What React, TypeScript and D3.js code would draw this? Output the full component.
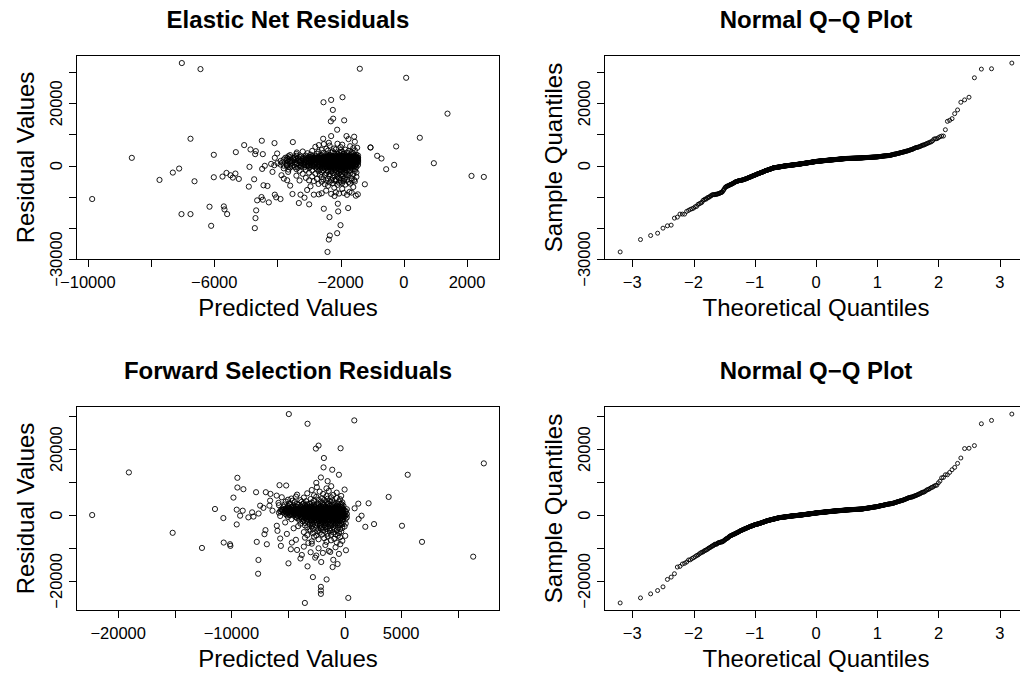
import React from 'react';
import * as d3 from 'd3';

// Elastic Net model: [predicted, residual]
const enetPoints: [number, number][] = [
  // lower tail
  [-2416, -27740], [-2374, -23760], [-2342, -22470], [-2110, -21720], [-4716, -20100], [-6098, -19350],
  [-2004, -19140], [-4695, -16880], [-2353, -16560], [-6752, -15590], [-7037, -15590], [-5592, -15590],
  [-2078, -14730], [-4674, -14400], [-5676, -14080], [-2532, -13870], [-1762, -13650], [-6150, -13220],
  [-5697, -13120], [-2996, -12470], [-2089, -12260], [-3323, -12040], [-4273, -11830], [-4642, -11180],
  [-4463, -10970], [-9864, -10750], [-3903, -10750], [-3144, -10320], [-4040, -10210], [-4505, -10110],
  [-2194, -9780], [-1519, -9680], [-3270, -9350], [-2848, -9350], [-4083, -9350], [-1456, -9250],
  [-2690, -9250], [-3524, -9140],
  [-1720, -8490], [-2050, -9000], [-1900, -8800], [-2300, -9100], [-1650, -8700], [-2150, -8600], [-2600, -8900], [-1800, -9400],
  [-2458, -8060], [-3060, -7850], [-2954, -6670], [-3597, -6450], [-4315, -6560], [-4906, -6770], [-1950, -7500],
  [-2200, -7100], [-1600, -6900], [-2400, -6500],
  [-4442, -6340], [-1234, -6020], [-6625, -5050], [-3692, -4730], [-2100, -6200], [-1850, -6100], [-2500, -6000],
  [-2700, -5900], [-1700, -5800], [-2250, -5700], [-1950, -5600], [-2050, -5500], [-2350, -5400], [-1750, -5300],
  [-2600, -5200], [-2000, -5150], [-1550, -5100], [-2850, -5000], [-2150, -4950], [-1900, -4900], [-2450, -4850],
  [-3300, -4800], [-1650, -4800], [-2200, -4780], [-3000, -4760],
  [-7733, -4620], [-5222, -4300], [-4737, -4410], [-3798, -4190], [-1572, -4620], [-5412, -3870], [-6014, -3760],
  [-5739, -3550], [-5486, -3120], [-3872, -3120],
  [-2300, -4700], [-2000, -4600], [-1800, -4500], [-2550, -4450], [-2150, -4400], [-2750, -4300], [-1900, -4250],
  [-2400, -4200], [-1650, -4100], [-2050, -4000], [-3100, -3950], [-2250, -3900], [-1850, -3800], [-2600, -3700],
  [-1500, -3650], [-2100, -3550], [-2900, -3500], [-1950, -3400], [-2350, -3300], [-3400, -3250], [-1750, -3200],
  [-5613, -2370], [-7311, -2260], [-4157, -2040], [-3661, -2040],
  [-2200, -3100], [-2000, -3050], [-2500, -3000], [-1800, -2950], [-2650, -2900], [-2100, -2850], [-1600, -2800],
  [-2350, -2750], [-1950, -2700], [-3200, -2650], [-2800, -2600], [-2050, -2550], [-1700, -2500], [-2450, -2450],
  [-2250, -2400], [-1850, -2350], [-3000, -2300], [-1500, -2250], [-2150, -2200], [-2600, -2150], [-1900, -2100],
  [-5330, -2580], [-2400, -2000], [-2000, -1950], [-1750, -1900], [-2700, -1850], [-2300, -1800], [-1550, -1750],
  [-2100, -1700], [-3300, -1650], [-1950, -1620], [-2550, -1600], [-1800, -1570], [-2900, -1550], [-2200, -1520],
  [-4484, -1080], [-3650, -1290], [-559, -1180], [-7111, -970],
  [-2000, -1500], [-2400, -1460], [-1700, -1420], [-3100, -1380], [-2150, -1350], [-1850, -1300], [-2650, -1260],
  [-2300, -1220], [-1550, -1180], [-3400, -1140], [-2050, -1100], [-2750, -1050], [-1900, -1000], [-2500, -950],
  [-3800, -900], [-2200, -850], [-1650, -800],
  [-4885, -430],
  [-2100, -760], [-2600, -750], [-1800, -740], [-3000, -730], [-2300, -720], [-1950, -700], [-3350, -690],
  [-2450, -680], [-1600, -660], [-2150, -650], [-2800, -640], [-2000, -620], [-3600, -600], [-1750, -590],
  [-2350, -580], [-2550, -560], [-1900, -550], [-3150, -540], [-2250, -520], [-1500, -510], [-2700, -490],
  [-2050, -480], [-3450, -460], [-1850, -450], [-2400, -440], [-2950, -420], [-1650, -410], [-2200, -390],
  [-3250, -380], [-2500, -360], [-1950, -350], [-2750, -330], [-1700, -320], [-2100, -300], [-3550, -290],
  [-2300, -270], [-1800, -260], [-2650, -240], [-3050, -230], [-2000, -210], [-1550, -200], [-2450, -190],
  [-2850, -170], [-2150, -160], [-3700, -150], [-1900, -140], [-2350, -130],
  [-306, 215],
  [-2100, 515], [-1800, 505], [-2600, 495], [-3200, 485], [-1950, 475], [-2350, 466], [-1600, 456], [-2850, 446],
  [-2050, 436], [-3600, 426], [-2250, 417], [-1700, 407], [-2500, 397], [-1500, 387], [-3050, 378], [-2000, 368],
  [-2700, 358], [-1850, 348], [-3400, 338], [-2200, 329], [-1650, 319], [-2450, 309], [-3900, 299], [-1950, 290],
  [-2150, 280], [-2950, 270], [-1550, 260], [-2400, 250], [-3300, 241], [-1800, 231], [-2050, 221], [-2650, 211],
  [-1450, 202], [-3700, 192], [-2300, 182], [-1900, 172], [-2800, 162], [-2100, 153], [-3150, 143], [-1700, 133],
  [-2550, 123], [-2000, 113], [-4100, 104], [-2250, 94], [-1600, 84], [-3000, 74], [-1850, 64], [-2400, 55],
  [-3500, 45], [-2150, 35], [-1750, 25], [-2700, 15], [-1950, 6], [-3250, -4], [-2350, -14], [-1550, -24],
  [-2900, -34], [-2050, -43], [-3800, -53], [-1800, -63], [-2500, -73], [-2200, -83], [-4400, -92], [-1650, -102],
  [-3050, -112], [-2000, -122],
  [950, 750],
  [-2000, 1285], [-2350, 1274], [-1700, 1263], [-2900, 1252], [-2150, 1241], [-1550, 1230], [-3300, 1219],
  [-2500, 1208], [-1850, 1197], [-2050, 1186], [-3650, 1175], [-2250, 1164], [-1650, 1153], [-2700, 1142],
  [-1950, 1131], [-2400, 1120], [-1500, 1109], [-3100, 1098], [-2100, 1087], [-1800, 1076], [-2600, 1065],
  [-3450, 1054], [-2000, 1043], [-1600, 1032], [-2300, 1021], [-2850, 1010], [-1900, 999], [-2150, 988],
  [-3850, 977], [-1750, 966], [-2450, 955], [-2050, 944], [-1450, 933], [-3000, 922], [-2200, 911], [-1850, 900],
  [-2650, 889], [-3550, 878], [-1650, 867], [-2350, 856], [-1950, 845], [-2800, 834], [-2100, 823], [-1550, 812],
  [-3250, 801], [-2500, 790], [-1800, 779], [-2000, 768], [-4000, 757], [-2250, 746], [-1700, 735], [-2950, 724],
  [-2400, 713], [-1900, 702], [-3400, 691], [-2150, 680], [-1500, 669], [-2600, 658], [-2050, 647], [-3700, 636],
  [-1850, 625], [-2300, 614], [-2750, 603], [-1600, 592], [-2000, 581], [-3150, 570], [-2450, 559], [-1750, 548],
  [-2200, 537], [-4200, 526],
  [-2200, 1805], [-1750, 1798], [-2450, 1791], [-1950, 1784], [-3100, 1777], [-1600, 1770], [-2300, 1763],
  [-2050, 1756], [-2750, 1749], [-1850, 1742], [-3450, 1735], [-2150, 1728], [-1500, 1721], [-2550, 1714],
  [-2000, 1707], [-1700, 1700], [-2900, 1693], [-2350, 1686], [-1900, 1679], [-3700, 1672], [-2100, 1665],
  [-1550, 1658], [-2650, 1651], [-2250, 1644], [-1800, 1637], [-3250, 1630], [-2000, 1623], [-1650, 1616],
  [-2400, 1609], [-2850, 1602], [-1950, 1595], [-1450, 1588], [-2200, 1581], [-3550, 1574], [-2500, 1567],
  [-1750, 1560], [-2050, 1553], [-3000, 1546], [-1600, 1539], [-2300, 1532], [-1900, 1525], [-2700, 1518],
  [-2150, 1511], [-3350, 1504], [-1550, 1497], [-2450, 1490], [-1850, 1483], [-2000, 1476], [-3900, 1469],
  [-2600, 1462], [-1700, 1455], [-2250, 1448], [-2950, 1441], [-1500, 1434], [-2100, 1427], [-1950, 1420],
  [-3150, 1413], [-2350, 1406], [-1800, 1399], [-2550, 1392], [-1650, 1385], [-2050, 1378], [-3600, 1371],
  [-2200, 1364], [-1450, 1357], [-2800, 1350], [-1900, 1343], [-2400, 1336], [-1750, 1329], [-3050, 1322],
  [-2150, 1315], [-1600, 1300],
  [-2050, 2255], [-1800, 2248], [-2500, 2241], [-1600, 2234], [-2250, 2227], [-3000, 2220], [-1950, 2213],
  [-2350, 2206], [-1700, 2199], [-3400, 2192], [-2150, 2185], [-1500, 2178], [-2600, 2171], [-1900, 2164],
  [-2000, 2157], [-2800, 2150], [-1650, 2143], [-2400, 2136], [-3650, 2129], [-1850, 2122], [-2200, 2115],
  [-1550, 2108], [-2700, 2101], [-2100, 2094], [-1750, 2087], [-3200, 2080], [-2300, 2073], [-1950, 2066],
  [-1450, 2059], [-2550, 2052], [-2050, 2045], [-1800, 2038], [-2900, 2031], [-2250, 2024], [-1600, 2017],
  [-3500, 2010], [-2000, 2003], [-2450, 1996], [-1700, 1989], [-2150, 1982], [-3100, 1975], [-1900, 1968],
  [-2350, 1961], [-1500, 1954], [-2650, 1947], [-2050, 1940], [-1850, 1933], [-3800, 1926], [-2200, 1919],
  [-1650, 1912], [-2500, 1905], [-1950, 1898], [-2750, 1891], [-2100, 1884], [-1550, 1877], [-3300, 1870],
  [-2300, 1863], [-1750, 1856], [-2000, 1849], [-2850, 1842], [-1900, 1835], [-2400, 1828], [-1450, 1821],
  [-3000, 1818], [-2150, 1815], [-1800, 1812],
  [-707, 2260],
  [-2000, 2445], [-1750, 2442], [-2300, 2439], [-2650, 2436], [-1550, 2433], [-2150, 2430], [-1900, 2427],
  [-3200, 2424], [-2450, 2420], [-1650, 2417], [-2050, 2414], [-2750, 2411], [-1850, 2408], [-2250, 2405],
  [-3500, 2402], [-1500, 2398], [-2100, 2395], [-2550, 2392], [-1800, 2389], [-1950, 2386], [-2850, 2383],
  [-2350, 2380], [-1600, 2376], [-2200, 2373], [-3050, 2370], [-1700, 2367], [-2400, 2364], [-2000, 2361],
  [-1450, 2358], [-2600, 2354], [-1850, 2351], [-2150, 2348], [-3350, 2345], [-1750, 2342], [-2300, 2339],
  [-2050, 2336], [-2950, 2332], [-1550, 2329], [-2500, 2326], [-1900, 2323], [-2250, 2320], [-3700, 2317],
  [-1650, 2314], [-2100, 2310], [-2700, 2307], [-1800, 2304], [-2400, 2301], [-1950, 2298], [-3150, 2295],
  [-1500, 2292], [-2200, 2288], [-2550, 2285], [-1700, 2282], [-2000, 2279], [-2800, 2276], [-1850, 2273],
  [-2350, 2270], [-1600, 2266],
  [-8609, 2470], [-4083, 2470],
  [-2100, 2765], [-1850, 2760], [-2400, 2755], [-1600, 2750], [-2950, 2745], [-2000, 2740], [-2250, 2730],
  [-1700, 2725], [-3300, 2720], [-1950, 2715], [-2550, 2710], [-1500, 2700], [-2150, 2695], [-1800, 2690],
  [-2700, 2680], [-2050, 2675], [-3600, 2670], [-1650, 2660], [-2350, 2655], [-1900, 2650], [-2800, 2640],
  [-2200, 2635], [-1550, 2630], [-2450, 2620], [-2000, 2615], [-3100, 2610], [-1750, 2600], [-2300, 2595],
  [-1850, 2590], [-2600, 2580], [-2100, 2575], [-1450, 2570], [-3450, 2560], [-1950, 2555], [-2500, 2550],
  [-1700, 2540], [-2250, 2535], [-2900, 2530], [-2050, 2520], [-1600, 2515], [-2400, 2510], [-3750, 2500],
  [-1800, 2495], [-2150, 2490], [-2650, 2480], [-1900, 2470], [-2350, 2460],
  [-844, 3120],
  [-2200, 3210], [-1900, 3200], [-2600, 3190], [-3100, 3170], [-1700, 3160], [-2400, 3150], [-2050, 3130],
  [-3400, 3120], [-1550, 3100], [-2300, 3090], [-2800, 3070], [-1950, 3060], [-2150, 3040], [-3650, 3020],
  [-1800, 3010], [-2500, 3000], [-2000, 2980], [-2900, 2960], [-1600, 2950], [-2250, 2930], [-3250, 2910],
  [-1850, 2900], [-2700, 2880], [-2100, 2860], [-1500, 2850], [-2450, 2830], [-3000, 2820], [-1750, 2800],
  [-2350, 2790], [-1950, 2780],
  [-4705, 3660], [-4463, 3660], [-4009, 3870], [-6014, 3440],
  [-2300, 4150], [-1800, 4100], [-2550, 4050], [-2000, 4000], [-3050, 3950], [-1600, 3900], [-2200, 3850],
  [-2750, 3800], [-1900, 3750], [-3400, 3700], [-2450, 3650], [-1700, 3600], [-2100, 3550], [-2950, 3500],
  [-1500, 3450], [-2350, 3400], [-3600, 3350], [-1850, 3300], [-2650, 3280], [-2050, 3250], [-1450, 3230],
  [-4853, 5160], [-4684, 4620], [-5317, 4300], [-3387, 4190],
  [-2150, 5200], [-1850, 5100], [-2600, 5000], [-2000, 4950], [-1550, 4850], [-2400, 4800], [-2900, 4700],
  [-1750, 4650], [-2250, 4550], [-3200, 4500], [-1950, 4450], [-2700, 4400], [-1650, 4300], [-2050, 4250],
  [-2532, 6880], [-2690, 6560], [-5053, 6560], [-243, 6130], [-1055, 5800], [-1477, 5700], [-2205, 5480],
  [-2100, 7000], [-1950, 6700], [-2350, 6400], [-1700, 6200], [-2800, 6000], [-2000, 5900], [-1600, 5600], [-2450, 5400],
  // upper tail
  [-7026, 32900], [-1393, 31070], [-6436, 30960], [74, 28170], [-1941, 21930], [-2300, 21070], [-2543, 20320],
  [-2247, 17850], [1382, 16660], [-2237, 15050], [-1888, 14510], [-2310, 14190], [-2110, 11500], [-1815, 9460],
  [-2300, 9460], [-1572, 9250], [506, 8920], [-6752, 8600], [-2553, 8600], [-1751, 8490], [-4495, 7960],
  [-1551, 7630], [-3513, 7530], [-2374, 7310], [-4093, 7200],
  // right of the cluster
  [-1055, 5800], [2142, -3330], [2532, -3655],
];

// Forward Selection model: [predicted, residual]
const fwdPoints: [number, number][] = [
  // upper tail
  [-4927, 30670], [856, 28740], [-3275, 27720], [-2300, 21090], [-354, 20280], [-2537, 20180], [-1829, 17320],
  [12300, 15690], [-1859, 14470], [-1092, 13760], [-19057, 12940], [-500, 12230], [5575, 12230], [-2095, 11410],
  [-9470, 11310], [-1500, 10300],
  [-2500, 9780], [-5750, 9070], [-5160, 8970], [-1180, 8760], [-2450, 8460], [-9470, 8360], [-8940, 7850],
  [0, 7740], [-1600, 8100], [-2900, 7600],
  [-7820, 6930], [-6960, 6930], [-6550, 6420], [-1400, 7300], [-2200, 7100], [-700, 6800], [-3300, 6600],
  [-1900, 6400], [-4200, 6200], [-1000, 6100], [-2700, 6000], [-6000, 5900], [-300, 5800], [-1600, 5750],
  [-9820, 5300], [3890, 5500], [-5550, 5400], [-6580, 4380],
  [-4300, 5600], [-2500, 5500], [-1200, 5400], [-3600, 5300], [-700, 5200], [-2000, 5100], [-4700, 5000],
  [-1500, 4950], [-3000, 4850], [-400, 4800], [-2300, 4700], [-5000, 4650], [-1800, 4550], [-3900, 4500], [-1100, 4420],
  [1210, 3460], [2120, 3570],
  [-4600, 4350], [-2700, 4300], [-1300, 4250], [-3400, 4200], [-500, 4150], [-5200, 4100], [-2100, 4050],
  [-3800, 4000], [-1600, 3950], [-4400, 3900], [-200, 3850], [-2900, 3800], [-1000, 3750], [-5840, 3700],
  [-2400, 3650], [-3600, 3600], [-800, 3550], [-4900, 3500], [-1900, 3450], [-3100, 3420], [-300, 3400],
  [-4200, 3380], [-1400, 3370],
  [-6640, 2850], [-7460, 2850],
  [-3700, 3340], [-1500, 3320], [-4800, 3300], [-2300, 3270], [-600, 3250], [-3300, 3220], [-5300, 3190],
  [-1100, 3160], [-2700, 3140], [-4100, 3110], [-200, 3080], [-1900, 3050], [-3500, 3020], [-5800, 2990],
  [-900, 2960], [-2500, 2930], [-4500, 2900], [-1300, 2870], [-3000, 2840], [-100, 2810], [-5000, 2780],
  [-2100, 2750], [-3900, 2720], [-700, 2690], [-1700, 2660], [-4300, 2630], [-2900, 2600], [-400, 2580], [-3400, 2560],
  [-11450, 1830],
  [-3200, 2540], [-800, 2525], [-4700, 2510], [-1900, 2495], [-2600, 2480], [-300, 2465], [-5400, 2450],
  [-1400, 2435], [-3600, 2420], [-2200, 2405], [-600, 2390], [-4200, 2375], [-1700, 2360], [-3000, 2345],
  [885, 2040], [-5000, 2315], [-2400, 2300], [-1100, 2285], [-3800, 2270], [-2000, 2255], [-4500, 2240],
  [-500, 2225], [-2800, 2210], [-1500, 2195], [-7170, 2180], [-3400, 2165], [-900, 2150], [-2100, 2135],
  [-4000, 2120], [-1300, 2105], [-2700, 2090], [-200, 2075], [-4900, 2060], [-1800, 2045], [-3300, 2030],
  [-700, 2015], [-2300, 2000], [-5200, 1985], [-1000, 1970], [-3700, 1955], [-1600, 1940], [-2500, 1925],
  [-4400, 1910], [-400, 1895], [-2900, 1880], [-1200, 1865], [-3500, 1850], [-2000, 1838],
  [-9530, 1630],
  [-2100, 1826], [-4600, 1821], [-900, 1816], [-3100, 1811], [-1600, 1806], [-5300, 1801], [-2500, 1796],
  [-300, 1790], [-3900, 1785], [-1300, 1780], [-2800, 1775], [-600, 1770], [-4300, 1765], [-1900, 1760],
  [-3400, 1755], [200, 1750], [-5000, 1745], [-2300, 1739], [-1100, 1734], [-3700, 1729], [-2000, 1724],
  [-4800, 1719], [-700, 1714], [-2700, 1709], [-1500, 1704], [-3300, 1699], [-5600, 1694], [-1000, 1688],
  [-2400, 1683], [-4100, 1678], [-1800, 1673], [-400, 1668], [-3000, 1663], [-2200, 1658], [-4500, 1653],
  [-1200, 1648], [-3600, 1643], [-100, 1637], [-2600, 1632], [-5200, 1627], [-1700, 1622], [-2900, 1617],
  [-800, 1612], [-4000, 1607], [-2000, 1602], [-3200, 1597], [-1400, 1592], [-4700, 1586], [-500, 1581],
  [-2500, 1576], [-3800, 1571], [-1600, 1566], [-2300, 1561], [-5500, 1556], [-1000, 1551], [-3500, 1546],
  [-2100, 1541], [-200, 1535],
  [-9000, 1320], [-6370, 1320],
  [-2700, 1525], [-1200, 1519], [-4400, 1513], [-300, 1506], [-3300, 1500], [-1800, 1494], [-5100, 1487],
  [-2200, 1481], [-800, 1475], [-3800, 1468], [-1500, 1462], [-2900, 1456], [-4800, 1449], [-100, 1443],
  [-2400, 1437], [-3500, 1430], [-1000, 1424], [-5500, 1418], [-2000, 1411], [-3100, 1405], [-600, 1399],
  [-4200, 1392], [-1700, 1386], [-2600, 1380], [-3900, 1373], [-1300, 1367], [-200, 1361], [-4600, 1354],
  [-2300, 1348], [-3400, 1342], [-900, 1335], [-1900, 1329], [-5000, 1323], [-2800, 1316], [-400, 1310],
  [-3600, 1304], [-1400, 1297], [-4300, 1291], [-2100, 1285], [-700, 1278], [-3000, 1272], [-1600, 1266],
  [-5300, 1259], [-2500, 1253], [100, 1247], [-3700, 1240], [-1100, 1234], [-4500, 1228], [-2000, 1221],
  [-3200, 1215], [-500, 1209], [-1800, 1202], [-4000, 1196], [-2700, 1190], [-1300, 1183], [-5700, 1177],
  [-2200, 1171], [-3500, 1164], [-800, 1158], [-4700, 1152], [-1500, 1145], [-2900, 1139], [-300, 1133], [-3900, 1126],
  [-8170, 815],
  [-2000, 1115], [-4300, 1108], [-1100, 1101], [-3100, 1094], [-200, 1087], [-2600, 1080], [-5200, 1073],
  [-1600, 1066], [-3700, 1059], [-700, 1052], [-2300, 1045], [-4800, 1038], [-1300, 1031], [-2900, 1024],
  [-400, 1017], [-3400, 1010], [-1900, 1003], [-5600, 996], [-900, 989], [-2500, 982], [-4000, 975],
  [-1500, 968], [-3200, 961], [100, 954], [-2100, 947], [-4600, 940], [-1000, 933], [-2800, 926],
  [-3800, 919], [-600, 912], [-1800, 905], [-5000, 898], [-2400, 891], [-1200, 884], [-3500, 877],
  [-300, 870], [-2700, 863], [-4400, 856], [-1700, 849], [-800, 842], [-3000, 835], [-2200, 828],
  [-5400, 821], [-1400, 814], [-3600, 807], [-500, 800], [-2600, 793], [-4100, 786], [-1100, 779],
  [-2000, 772], [-3300, 765], [-100, 758], [-4700, 751], [-1600, 744], [-2800, 737], [-900, 730],
  [-3900, 723], [-2300, 716], [-5800, 709], [-1300, 702], [-3100, 695], [-400, 688], [-2500, 681],
  [-4500, 674], [-1900, 667], [-700, 660], [-3500, 653], [-1500, 646], [-2900, 639], [-5100, 632], [-1000, 620],
  [-2200, 605], [-4500, 596], [-900, 588], [-3300, 579], [-1600, 570], [-300, 561], [-2700, 553], [-5000, 544],
  [-1200, 535], [-3800, 527], [-2000, 518], [-600, 509], [-4200, 501], [-1800, 492], [-3000, 483], [-100, 474],
  [-2400, 466], [-7600, 457], [-1400, 448], [-3500, 440], [-800, 431], [-2600, 422], [-4000, 414], [-1900, 405],
  [-200, 396], [-3200, 387], [-1100, 379], [-4700, 370], [-2300, 361], [-600, 353], [-2900, 344], [-1500, 335],
  [-3700, 327], [200, 318], [-2100, 309], [-5200, 300], [-1000, 292], [-3400, 283], [-1700, 274], [-400, 266],
  [-2500, 257], [-4400, 248], [-1300, 240], [-2800, 231], [-700, 222], [-3900, 213], [-2000, 205], [-100, 196],
  [-3100, 187], [-1600, 179], [-4900, 170], [-900, 161], [-2400, 153], [-3600, 144], [-1200, 135], [-300, 126],
  [-2700, 118], [-1900, 109],
  [-22300, 0], [-9230, -200], [1500, -200],
  [-1800, 95], [-3700, 87], [-500, 79], [-2600, 71], [-1200, 63], [-4300, 55], [-2100, 47], [0, 39],
  [-3200, 31], [-1500, 23], [-2800, 15], [-700, 7], [-4800, -1], [-1900, -9], [-3500, -17], [-300, -25],
  [-2400, -33], [-1100, -41], [-4000, -49], [-2000, -57], [-900, -65], [-3000, -73], [-1600, -81], [-5100, -89],
  [-200, -97], [-2500, -105], [-3800, -113], [-1300, -121], [-2200, -129], [-600, -137], [-3300, -145], [-1700, -153],
  [-4500, -161], [100, -169], [-2700, -177], [-1000, -185], [-2000, -193], [-3600, -201], [-400, -209], [-1400, -217],
  [-2900, -225], [-800, -233], [-4200, -241], [-1900, -249], [-2300, -257], [-100, -265], [-3100, -273], [-1200, -281],
  [-5690, -289], [-700, -297], [-2600, -303],
  [-8500, -710],
  [-2100, -310], [-500, -320], [-3400, -330], [-1300, -340], [-2700, -350], [-4100, -360], [-800, -370], [-1900, -380],
  [-3000, -390], [-200, -400], [-2400, -410], [-1500, -420], [-3700, -430], [-1000, -440], [-2200, -450], [0, -460],
  [-8050, -470], [-1700, -480], [-2900, -490], [-600, -500], [-3300, -510], [-1200, -520], [-2000, -530], [-400, -540],
  [-3900, -550], [-2600, -560], [-900, -570], [-1600, -580], [-5000, -590], [-2300, -600], [-100, -610], [-3100, -620],
  [-1400, -630], [-2800, -640], [-700, -650], [-4300, -660], [-1900, -670], [-3500, -680], [-1100, -690], [200, -700],
  [-2500, -710], [-3800, -720], [-1500, -730], [-500, -740], [-2100, -750], [-3200, -760], [-900, -770], [-1800, -780],
  [-2700, -790], [-300, -800],
  [-10710, -920], [1240, -1220],
  [-2000, -830], [-3500, -852], [-700, -873], [-2600, -895], [-1300, -917], [-4200, -939], [-300, -960], [-2200, -982],
  [-1700, -1004], [-3100, -1026], [-900, -1047], [-2700, -1069], [100, -1091], [-1900, -1113], [-3800, -1134],
  [-1200, -1156], [-2400, -1178], [-600, -1200], [-3300, -1221], [-1500, -1243], [-2100, -1265], [-4700, -1287],
  [-1000, -1308], [-2800, -1330], [-400, -1352], [-1700, -1374], [-3000, -1395], [-2300, -1417], [-800, -1439],
  [-3600, -1461], [-1400, -1482], [-2500, -1504], [-200, -1526], [-2000, -1548], [-4000, -1569], [-1100, -1591],
  [-2900, -1613], [-600, -1635], [-1800, -1656], [-3300, -1678], [-1300, -1700], [-2200, -1720],
  [2600, -2750], [-9530, -2850],
  [-1600, -1760], [-3000, -1793], [-400, -1826], [-2300, -1859], [-1100, -1892], [-3700, -1925], [-2000, -1958],
  [-700, -1991], [-2700, -2024], [-1400, -2057], [-100, -2090], [-3300, -2123], [-1900, -2156], [-900, -2189],
  [-2500, -2222], [-5250, -2255], [-1200, -2288], [-300, -2321], [-2200, -2354], [-3500, -2387], [-1700, -2420],
  [-600, -2453], [-2900, -2486], [-1000, -2519], [-2000, -2552], [100, -2585], [-3900, -2618], [-1500, -2651],
  [-2400, -2684], [-800, -2717], [-3100, -2750], [-1300, -2783], [-200, -2816], [-2100, -2849], [-2800, -2882],
  [-500, -2915], [-1700, -2940],
  [-5990, -3260], [5070, -3260], [1830, -3570],
  [-1200, -2990], [-2600, -3044], [-400, -3099], [-3500, -3153], [-1800, -3208], [-800, -3262], [-2200, -3317],
  [-4100, -3371], [-1500, -3426], [0, -3480], [-2900, -3535], [-1000, -3589], [-2000, -3644], [-3300, -3698],
  [-600, -3753], [-1700, -3807], [-2500, -3862], [-200, -3916], [-1300, -3971], [-4500, -4025], [-2100, -4080],
  [-900, -4134], [-2800, -4189], [-1600, -4243], [-400, -4298], [-3100, -4352], [-1100, -4407], [-2300, -4460],
  [-6990, -4590], [-5930, -4790], [-15190, -5400], [-7080, -5810], [60, -6320],
  [-1900, -4560], [-700, -4650], [-3000, -4740], [-1300, -4830], [-2400, -4920], [-300, -5010], [-1700, -5100],
  [-3600, -5190], [-1000, -5280], [-2200, -5370], [-500, -5460], [-2800, -5550], [-1500, -5640], [-5100, -5730],
  [-800, -5820], [-2000, -5910], [-1200, -6000], [-3300, -6090], [-2500, -6180], [-600, -6270],
  [-5690, -7130], [-7760, -8150], [6840, -8150], [-4660, -8360], [-10680, -8360],
  [-1500, -6400], [-2700, -6560], [-400, -6720], [-3500, -6880], [-1800, -7040], [-900, -7200], [-2300, -7360],
  [-4300, -7520], [-1200, -7680], [-200, -7840], [-2900, -8000], [-1600, -8160], [-700, -8320], [-3200, -8480],
  // lower tail
  [-10120, -8870], [-6870, -8870], [-385, -8870], [-10090, -9370], [-5630, -9370], [-12600, -9990],
  [-4750, -10390], [120, -10700], [-1270, -11210], [-1920, -11510], [-3780, -12130], [11360, -12640],
  [-2600, -12940], [-7610, -13650], [-2065, -14270], [-4960, -14670], [-620, -14880], [-3275, -15590],
  [-1060, -15800], [-7640, -17830], [-2800, -18850], [-1590, -19560], [-2095, -21810], [-2095, -22930],
  [-2095, -23950], [325, -25170], [-3510, -26700],
  [-2900, -8700], [-1700, -9100], [-3600, -9600], [-800, -9800], [-2300, -10100], [-4200, -10600],
  [-1400, -10900], [-3000, -11300], [-500, -11800], [-2500, -12300], [-3900, -13200], [-1000, -13600],
];

// axes: tick positions and the ticks that carry a label
const enetXTicks = [-10000, -8000, -6000, -4000, -2000, 0, 2000];
const enetXLabels = [-10000, -6000, -2000, 0, 2000];
const enetYTicks = [-30000, -20000, -10000, 0, 10000, 20000, 30000];
const enetYLabels = [-30000, 0, 20000];
const fwdXTicks = [-20000, -15000, -10000, -5000, 0, 5000, 10000];
const fwdXLabels = [-20000, -10000, 0, 5000];
const fwdYTicks = [-20000, -10000, 0, 10000, 20000, 30000];
const fwdYLabels = [-20000, 0, 20000];
const qqTicks = [-3, -2, -1, 0, 1, 2, 3];

const FONT = '"Liberation Sans", Arial, Helvetica, sans-serif';
const QQ_TITLE = 'Normal Q\u2212Q Plot';

// inverse standard normal CDF (Acklam)
function qnorm(p: number): number {
  const a = [-39.69683028665376, 220.9460984245205, -275.9285104469687, 138.357751867269, -30.66479806614716, 2.506628277459239];
  const b = [-54.47609879822406, 161.5858368580409, -155.6989798598866, 66.80131188771972, -13.28068155288572];
  const c = [-0.007784894002430293, -0.3223964580411365, -2.400758277161838, -2.549732539343734, 4.374664141464968, 2.938163982698783];
  const d = [0.007784695709041462, 0.3224671290700398, 2.445134137142996, 3.754408661907416];
  const plow = 0.02425;
  if (p < plow) {
    const q = Math.sqrt(-2 * Math.log(p));
    return (((((c[0] * q + c[1]) * q + c[2]) * q + c[3]) * q + c[4]) * q + c[5]) / ((((d[0] * q + d[1]) * q + d[2]) * q + d[3]) * q + 1);
  }
  if (p <= 1 - plow) {
    const q = p - 0.5, r = q * q;
    return (((((a[0] * r + a[1]) * r + a[2]) * r + a[3]) * r + a[4]) * r + a[5]) * q / (((((b[0] * r + b[1]) * r + b[2]) * r + b[3]) * r + b[4]) * r + 1);
  }
  const q = Math.sqrt(-2 * Math.log(1 - p));
  return -(((((c[0] * q + c[1]) * q + c[2]) * q + c[3]) * q + c[4]) * q + c[5]) / ((((d[0] * q + d[1]) * q + d[2]) * q + d[3]) * q + 1);
}

function qqPoints(resid: number[]): [number, number][] {
  const s = resid.slice().sort((a, b) => a - b);
  const n = s.length;
  return s.map((v, i) => [qnorm((i + 0.5) / n), v]);
}

// R style axis range: data range plus 4% each side
function rDomain(vals: number[]): [number, number] {
  const [lo, hi] = d3.extent(vals) as [number, number];
  const pad = (hi - lo) * 0.04;
  return [lo - pad, hi + pad];
}

const fmt = (v: number) => (v < 0 ? '\u2212' + Math.abs(v) : String(v));

const CELL_W = 528;
const CELL_H = 351;
const M = { left: 76.5, top: 55.5 };
const PW = 423;
const PH = 204;

type PanelProps = {
  col: number;
  row: number;
  title: string;
  xLabel: string;
  yLabel: string;
  points: [number, number][];
  xTicks: number[];
  xLabels: number[];
  yTicks: number[];
  yLabels: number[];
  r: number;
};

function Panel({ col, row, title, xLabel, yLabel, points, xTicks, xLabels, yTicks, yLabels, r }: PanelProps) {
  const x0 = col * CELL_W + M.left;
  const y0 = row * CELL_H + M.top;
  const x1 = x0 + PW;
  const y1 = y0 + PH;
  const xs = d3.scaleLinear().domain(rDomain(points.map((p) => p[0]))).range([x0, x1]);
  const ys = d3.scaleLinear().domain(rDomain(points.map((p) => p[1]))).range([y1, y0]);
  const tick = 7.5;

  return (
    <g fontFamily={FONT} fill="#000">
      <text x={(x0 + x1) / 2} y={y0 - 27.5} textAnchor="middle" fontSize={24} fontWeight="bold">
        {title}
      </text>
      <rect x={x0} y={y0} width={PW} height={PH} fill="none" stroke="#000" strokeWidth={1} />
      {points.map((p, i) => (
        <circle key={i} cx={xs(p[0])} cy={ys(p[1])} r={r} fill="none" stroke="#000" strokeWidth={0.9} />
      ))}
      {xTicks.map((t) => (
        <line key={'xt' + t} x1={Math.round(xs(t)) + 0.5} x2={Math.round(xs(t)) + 0.5} y1={y1} y2={y1 + tick} stroke="#000" />
      ))}
      {xLabels.map((t) => (
        <text key={'xl' + t} x={xs(t)} y={y1 + 28} textAnchor="middle" fontSize={16.5}>
          {fmt(t)}
        </text>
      ))}
      {yTicks.map((t) => (
        <line key={'yt' + t} x1={x0 - tick} x2={x0} y1={Math.round(ys(t)) + 0.5} y2={Math.round(ys(t)) + 0.5} stroke="#000" />
      ))}
      {yLabels.map((t) => (
        <text
          key={'yl' + t}
          transform={`translate(${x0 - 15},${ys(t)}) rotate(-90)`}
          textAnchor="middle"
          fontSize={16.5}
        >
          {fmt(t)}
        </text>
      ))}
      <text x={(x0 + x1) / 2} y={y1 + 56} textAnchor="middle" fontSize={24}>
        {xLabel}
      </text>
      <text transform={`translate(${x0 - 43},${(y0 + y1) / 2}) rotate(-90)`} textAnchor="middle" fontSize={24}>
        {yLabel}
      </text>
    </g>
  );
}

export default function App() {
  const enetQQ = qqPoints(enetPoints.map((p) => p[1]));
  const fwdQQ = qqPoints(fwdPoints.map((p) => p[1]));
  return (
    <svg
      width={1020}
      height={673}
      style={{ position: 'absolute', left: 0, top: 0, background: '#fff' }}
    >
      <rect width={1020} height={673} fill="#fff" />
      <Panel col={0} row={0} title="Elastic Net Residuals" xLabel="Predicted Values" yLabel="Residual Values"
        points={enetPoints} xTicks={enetXTicks} xLabels={enetXLabels} yTicks={enetYTicks} yLabels={enetYLabels} r={2.6} />
      <Panel col={1} row={0} title={QQ_TITLE} xLabel="Theoretical Quantiles" yLabel="Sample Quantiles"
        points={enetQQ} xTicks={qqTicks} xLabels={qqTicks} yTicks={enetYTicks} yLabels={enetYLabels} r={2} />
      <Panel col={0} row={1} title="Forward Selection Residuals" xLabel="Predicted Values" yLabel="Residual Values"
        points={fwdPoints} xTicks={fwdXTicks} xLabels={fwdXLabels} yTicks={fwdYTicks} yLabels={fwdYLabels} r={2.6} />
      <Panel col={1} row={1} title={QQ_TITLE} xLabel="Theoretical Quantiles" yLabel="Sample Quantiles"
        points={fwdQQ} xTicks={qqTicks} xLabels={qqTicks} yTicks={fwdYTicks} yLabels={fwdYLabels} r={2} />
    </svg>
  );
}
